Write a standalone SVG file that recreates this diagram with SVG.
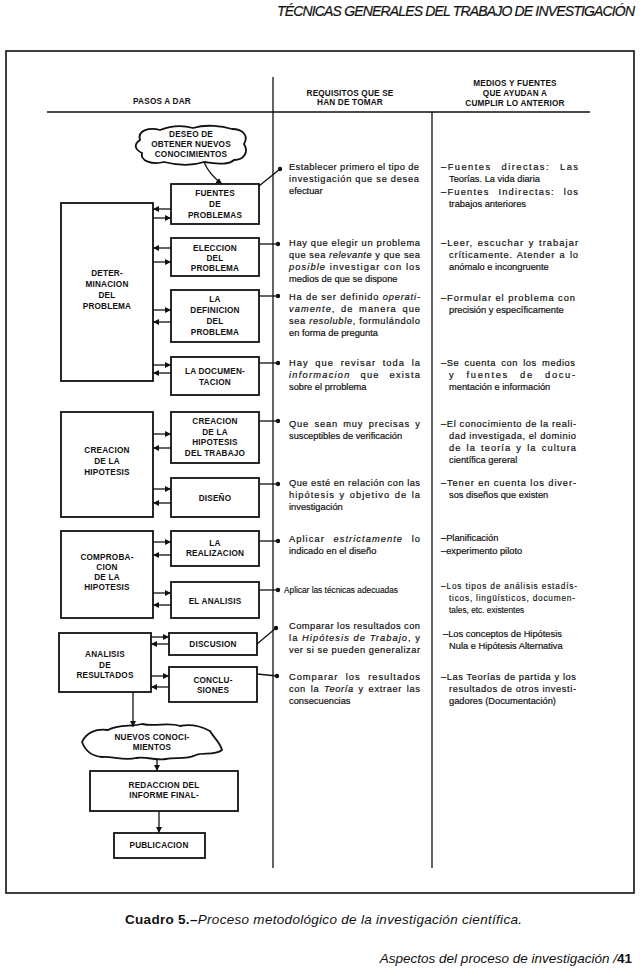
<svg xmlns="http://www.w3.org/2000/svg" width="640" height="977" viewBox="0 0 640 977">
<style>
.bx{fill:#fff;stroke:#111;stroke-width:1.8}
.ln{fill:none;stroke:#111;stroke-width:1.3}
.fr{fill:none;stroke:#111;stroke-width:1.6}
.lb{font-family:"Liberation Sans",Arial,sans-serif;font-weight:bold;font-size:8.2px;fill:#111;text-anchor:middle;letter-spacing:0.2px}
.tx{font-family:"Liberation Sans",Arial,sans-serif;font-size:9.3px;fill:#111;stroke:#111;stroke-width:0.2}
.sm{font-family:"Liberation Sans",Arial,sans-serif;font-size:8.3px;fill:#111;stroke:#111;stroke-width:0.15}
.it{font-style:italic}
.dot{fill:#111}
</style>
<defs>
<marker id="ah" markerWidth="6" markerHeight="6" refX="6" refY="3" orient="auto" markerUnits="userSpaceOnUse"><path d="M0,0 L6,3 L0,6 z" fill="#111"/></marker>
</defs>
<rect width="640" height="977" fill="#fff"/>
<text x="277" y="16" textLength="358" font-family="Liberation Sans,Arial,sans-serif" font-style="italic" font-size="14" fill="#111" stroke="#111" stroke-width="0.2">TÉCNICAS GENERALES DEL TRABAJO DE INVESTIGACIÓN</text>
<g id="frame">
<rect class="fr" x="6" y="51" width="628" height="842"/>
<line class="ln" x1="273" y1="77" x2="273" y2="868"/>
<line class="ln" x1="47" y1="112" x2="590" y2="112" stroke-width="1.8"/>
<line class="ln" x1="432" y1="112" x2="432" y2="868"/>
</g>
<g id="headers">
<text class="lb" x="162" y="104">PASOS A DAR</text>
<text class="lb" x="350" y="96">REQUISITOS QUE SE</text>
<text class="lb" x="350" y="105">HAN DE TOMAR</text>
<text class="lb" x="515" y="86">MEDIOS Y FUENTES</text>
<text class="lb" x="515" y="96">QUE AYUDAN A</text>
<text class="lb" x="515" y="106">CUMPLIR LO ANTERIOR</text>
</g>
<g id="cloud-deseo">
<path class="bx" d="M140,140 C137,130 150,127 160,130 C170,126 182,125 193,128 C206,124 222,126 232,129 C243,129 249,136 244,144 C249,152 244,160 234,160 C228,166 214,163 204,162 C192,166 176,165 164,162 C152,165 140,161 142,153 C134,149 134,144 140,140 Z"/>
<text class="lb" x="191" y="137">DESEO DE</text>
<text class="lb" x="191" y="147">OBTENER NUEVOS</text>
<text class="lb" x="191" y="157">CONOCIMIENTOS</text>
</g>
<g id="fuentes"><rect class="bx" x="171" y="184" width="88" height="40"/>
<text class="lb" x="215" y="196">FUENTES</text><text class="lb" x="215" y="207">DE</text><text class="lb" x="215" y="218">PROBLEMAS</text></g>
<g id="determinacion"><rect class="bx" x="61" y="203" width="92" height="178"/>
<text class="lb" x="107" y="276">DETER-</text><text class="lb" x="107" y="287">MINACION</text><text class="lb" x="107" y="298">DEL</text><text class="lb" x="107" y="309">PROBLEMA</text></g>
<g id="eleccion"><rect class="bx" x="171" y="238" width="88" height="38"/>
<text class="lb" x="215" y="251">ELECCION</text><text class="lb" x="215" y="261">DEL</text><text class="lb" x="215" y="271">PROBLEMA</text></g>
<g id="definicion"><rect class="bx" x="171" y="290" width="88" height="52"/>
<text class="lb" x="215" y="302">LA</text><text class="lb" x="215" y="313">DEFINICION</text><text class="lb" x="215" y="324">DEL</text><text class="lb" x="215" y="335">PROBLEMA</text></g>
<g id="documentacion"><rect class="bx" x="171" y="357" width="88" height="38"/>
<text class="lb" x="215" y="374">LA DOCUMEN-</text><text class="lb" x="215" y="385">TACION</text></g>
<g id="creacion-hipotesis"><rect class="bx" x="61" y="412" width="92" height="105"/>
<text class="lb" x="107" y="453">CREACION</text><text class="lb" x="107" y="464">DE LA</text><text class="lb" x="107" y="475">HIPOTESIS</text></g>
<g id="creacion-trabajo"><rect class="bx" x="171" y="412" width="88" height="51"/>
<text class="lb" x="215" y="424">CREACION</text><text class="lb" x="215" y="435">DE LA</text><text class="lb" x="215" y="445">HIPOTESIS</text><text class="lb" x="215" y="456">DEL TRABAJO</text></g>
<g id="diseno"><rect class="bx" x="171" y="478" width="88" height="39"/>
<text class="lb" x="215" y="501">DISEÑO</text></g>
<g id="comprobacion"><rect class="bx" x="61" y="531" width="92" height="87"/>
<text class="lb" x="107" y="560">COMPROBA-</text><text class="lb" x="107" y="570">CION</text><text class="lb" x="107" y="580">DE LA</text><text class="lb" x="107" y="590">HIPOTESIS</text></g>
<g id="realizacion"><rect class="bx" x="171" y="531" width="88" height="35"/>
<text class="lb" x="215" y="546">LA</text><text class="lb" x="215" y="556">REALIZACION</text></g>
<g id="analisis"><rect class="bx" x="171" y="582" width="88" height="36"/>
<text class="lb" x="215" y="604">EL ANALISIS</text></g>
<g id="resultados"><rect class="bx" x="59" y="633" width="92" height="59"/>
<text class="lb" x="105" y="657">ANALISIS</text><text class="lb" x="105" y="668">DE</text><text class="lb" x="105" y="678">RESULTADOS</text></g>
<g id="discusion"><rect class="bx" x="169" y="633" width="88" height="22"/>
<text class="lb" x="213" y="647">DISCUSION</text></g>
<g id="conclusiones"><rect class="bx" x="169" y="667" width="88" height="35"/>
<text class="lb" x="213" y="683">CONCLU-</text><text class="lb" x="213" y="693">SIONES</text></g>
<g id="cloud-nuevos">
<path class="bx" d="M82,742 C86,733 96,728 108,730 C118,724 132,727 142,724 C156,727 168,722 180,726 C194,723 204,728 210,731 C214,738 220,742 222,750 C214,756 204,752 196,755 C186,760 176,757 166,759 C156,761 146,756 136,758 C124,761 112,756 102,757 C92,756 86,752 82,742 Z"/>
<text class="lb" x="152" y="740">NUEVOS CONOCI-</text><text class="lb" x="152" y="750">MIENTOS</text></g>
<g id="redaccion"><rect class="bx" x="90" y="771" width="148" height="40"/>
<text class="lb" x="164" y="788">REDACCION DEL</text><text class="lb" x="164" y="798">INFORME FINAL-</text></g>
<g id="publicacion"><rect class="bx" x="114" y="833" width="91" height="25"/>
<text class="lb" x="159" y="848">PUBLICACION</text></g>
<g id="connectors">
<path class="ln" d="M204,162 C208,172 214,178 222,184" marker-end="url(#ah)"/>
<line class="ln" x1="133" y1="692" x2="133" y2="727" marker-end="url(#ah)"/>
<line class="ln" x1="157" y1="758" x2="157" y2="771" marker-end="url(#ah)"/>
<line class="ln" x1="159" y1="811" x2="159" y2="833" marker-end="url(#ah)"/>
<line class="ln" x1="171" y1="209" x2="153" y2="209" marker-end="url(#ah)"/>
<line class="ln" x1="153" y1="218" x2="171" y2="218" marker-end="url(#ah)"/>
<line class="ln" x1="171" y1="248" x2="153" y2="248" marker-end="url(#ah)"/>
<line class="ln" x1="153" y1="262" x2="171" y2="262" marker-end="url(#ah)"/>
<line class="ln" x1="153" y1="310" x2="171" y2="310" marker-end="url(#ah)"/>
<line class="ln" x1="171" y1="322" x2="153" y2="322" marker-end="url(#ah)"/>
<line class="ln" x1="153" y1="365" x2="171" y2="365" marker-end="url(#ah)"/>
<line class="ln" x1="171" y1="373" x2="153" y2="373" marker-end="url(#ah)"/>
<line class="ln" x1="153" y1="434" x2="171" y2="434" marker-end="url(#ah)"/>
<line class="ln" x1="171" y1="448" x2="153" y2="448" marker-end="url(#ah)"/>
<line class="ln" x1="153" y1="489" x2="171" y2="489" marker-end="url(#ah)"/>
<line class="ln" x1="171" y1="503" x2="153" y2="503" marker-end="url(#ah)"/>
<line class="ln" x1="153" y1="542" x2="171" y2="542" marker-end="url(#ah)"/>
<line class="ln" x1="171" y1="555" x2="153" y2="555" marker-end="url(#ah)"/>
<line class="ln" x1="153" y1="593" x2="171" y2="593" marker-end="url(#ah)"/>
<line class="ln" x1="171" y1="605" x2="153" y2="605" marker-end="url(#ah)"/>
<line class="ln" x1="151" y1="637" x2="169" y2="637" marker-end="url(#ah)"/>
<line class="ln" x1="169" y1="644" x2="151" y2="644" marker-end="url(#ah)"/>
<line class="ln" x1="151" y1="676" x2="169" y2="676" marker-end="url(#ah)"/>
<line class="ln" x1="169" y1="687" x2="151" y2="687" marker-end="url(#ah)"/>
<line class="ln" x1="259" y1="186" x2="280" y2="169"/><circle class="dot" cx="280" cy="169" r="2.2"/>
<line class="ln" x1="259" y1="244" x2="278" y2="244"/><circle class="dot" cx="278" cy="244" r="2.2"/>
<line class="ln" x1="259" y1="296" x2="278" y2="296"/><circle class="dot" cx="278" cy="296" r="2.2"/>
<line class="ln" x1="259" y1="363" x2="278" y2="363"/><circle class="dot" cx="278" cy="363" r="2.2"/>
<line class="ln" x1="259" y1="421" x2="278" y2="421"/><circle class="dot" cx="278" cy="421" r="2.2"/>
<line class="ln" x1="259" y1="484" x2="278" y2="484"/><circle class="dot" cx="278" cy="484" r="2.2"/>
<line class="ln" x1="259" y1="541" x2="278" y2="541"/><circle class="dot" cx="278" cy="541" r="2.2"/>
<line class="ln" x1="259" y1="590" x2="278" y2="590"/><circle class="dot" cx="278" cy="590" r="2.2"/>
<line class="ln" x1="257" y1="644" x2="276" y2="628"/><circle class="dot" cx="276" cy="628" r="2.2"/>
<line class="ln" x1="257" y1="674" x2="277" y2="676"/><circle class="dot" cx="277" cy="676" r="2.2"/>
</g>
<g id="requisitos">
<text class="tx" x="289" y="170" textLength="130">Establecer primero el tipo de</text>
<text class="tx" x="289" y="182" textLength="130">investigación que se desea</text>
<text class="tx" x="289" y="194">efectuar</text>
<text class="tx" x="289" y="246" textLength="131">Hay que elegir un problema</text>
<text class="tx" x="289" y="258" textLength="131">que sea <tspan class="it">relevante</tspan> y que sea</text>
<text class="tx" x="289" y="270" textLength="131"><tspan class="it">posible</tspan> investigar con los</text>
<text class="tx" x="289" y="282">medios de que se dispone</text>
<text class="tx" x="289" y="300" textLength="131">Ha de ser definido <tspan class="it">operati-</tspan></text>
<text class="tx" x="289" y="312" textLength="131" word-spacing="2"><tspan class="it">vamente</tspan>, de manera que</text>
<text class="tx" x="289" y="324" textLength="131">sea <tspan class="it">resoluble</tspan>, formulándolo</text>
<text class="tx" x="289" y="336">en forma de pregunta</text>
<text class="tx" x="289" y="366" textLength="131" word-spacing="3">Hay que revisar toda la</text>
<text class="tx" x="289" y="378" textLength="131" word-spacing="6"><tspan class="it">informacion</tspan> que exista</text>
<text class="tx" x="289" y="390">sobre el prroblema</text>
<text class="tx" x="289" y="427" textLength="131" word-spacing="2">Que sean muy precisas y</text>
<text class="tx" x="289" y="439">susceptibles de verificación</text>
<text class="tx" x="289" y="486" textLength="131">Que esté en relación con las</text>
<text class="tx" x="289" y="498" textLength="131" word-spacing="1">hipótesis y objetivo de la</text>
<text class="tx" x="289" y="510">investigación</text>
<text class="tx" x="289" y="542" textLength="131" word-spacing="5">Aplicar <tspan class="it">estrictamente</tspan> lo</text>
<text class="tx" x="289" y="554">indicado en el diseño</text>
<text class="sm" x="284" y="593">Aplicar las técnicas adecuadas</text>
<text class="tx" x="289" y="629" textLength="131">Comparar los resultados con</text>
<text class="tx" x="289" y="641" textLength="131">la <tspan class="it">Hipótesis de Trabajo</tspan>, y</text>
<text class="tx" x="289" y="653" textLength="131">ver si se pueden generalizar</text>
<text class="tx" x="289" y="680" textLength="131" word-spacing="4">Comparar los resultados</text>
<text class="tx" x="289" y="692" textLength="131" word-spacing="1.5">con la <tspan class="it">Teoría</tspan> y extraer las</text>
<text class="tx" x="289" y="704">consecuencias</text>
</g>
<g id="medios">
<text class="tx" x="441" y="170" textLength="137" word-spacing="6">–Fuentes directas: Las</text>
<text class="tx" x="449" y="182">Teorías. La vida diaria</text>
<text class="tx" x="441" y="195" textLength="137" word-spacing="5">–Fuentes Indirectas: los</text>
<text class="tx" x="449" y="207">trabajos anteriores</text>
<text class="tx" x="441" y="246" textLength="137" word-spacing="1">–Leer, escuchar y trabajar</text>
<text class="tx" x="449" y="258" textLength="129" word-spacing="1">críticamente. Atender a lo</text>
<text class="tx" x="449" y="270">anómalo e incongruente</text>
<text class="tx" x="441" y="301" textLength="134">–Formular el problema con</text>
<text class="tx" x="449" y="313">precisión y específicamente</text>
<text class="tx" x="441" y="366" textLength="134" word-spacing="2">–Se cuenta con los medios</text>
<text class="tx" x="449" y="378" textLength="126" word-spacing="7">y fuentes de docu-</text>
<text class="tx" x="449" y="390">mentación e información</text>
<text class="tx" x="441" y="427" textLength="135">–El conocimiento de la reali-</text>
<text class="tx" x="449" y="439" textLength="127">dad investigada, el dominio</text>
<text class="tx" x="449" y="451" textLength="127" word-spacing="1.5">de la teoría y la cultura</text>
<text class="tx" x="449" y="463">científica gereral</text>
<text class="tx" x="441" y="486" textLength="135">–Tener en cuenta los diver-</text>
<text class="tx" x="449" y="498">sos diseños que existen</text>
<text class="tx" x="441" y="541">–Planificación</text>
<text class="tx" x="441" y="554">–experimento piloto</text>
<text class="sm" x="441" y="589" textLength="136">–Los tipos de análisis estadís-</text>
<text class="sm" x="449" y="601" textLength="126">ticos, lingüísticos, documen-</text>
<text class="sm" x="449" y="613">tales, etc. existentes</text>
<text class="tx" x="443" y="637">–Los conceptos de Hipótesis</text>
<text class="tx" x="449" y="649">Nula e Hipótesis Alternativa</text>
<text class="tx" x="441" y="680" textLength="135">–Las Teorías de partida y los</text>
<text class="tx" x="449" y="692" textLength="127">resultados de otros investi-</text>
<text class="tx" x="449" y="704">gadores (Documentación)</text>
</g>
<text x="125" y="924" textLength="397" font-family="Liberation Sans,Arial,sans-serif" font-size="13.5" fill="#111"><tspan font-weight="bold">Cuadro 5.–</tspan><tspan font-style="italic">Proceso metodológico de la investigación científica.</tspan></text>
<text x="632" y="963" text-anchor="end" font-family="Liberation Sans,Arial,sans-serif" font-size="13.5" fill="#111"><tspan font-style="italic">Aspectos del proceso de investigación /</tspan><tspan font-weight="bold">41</tspan></text>
</svg>
